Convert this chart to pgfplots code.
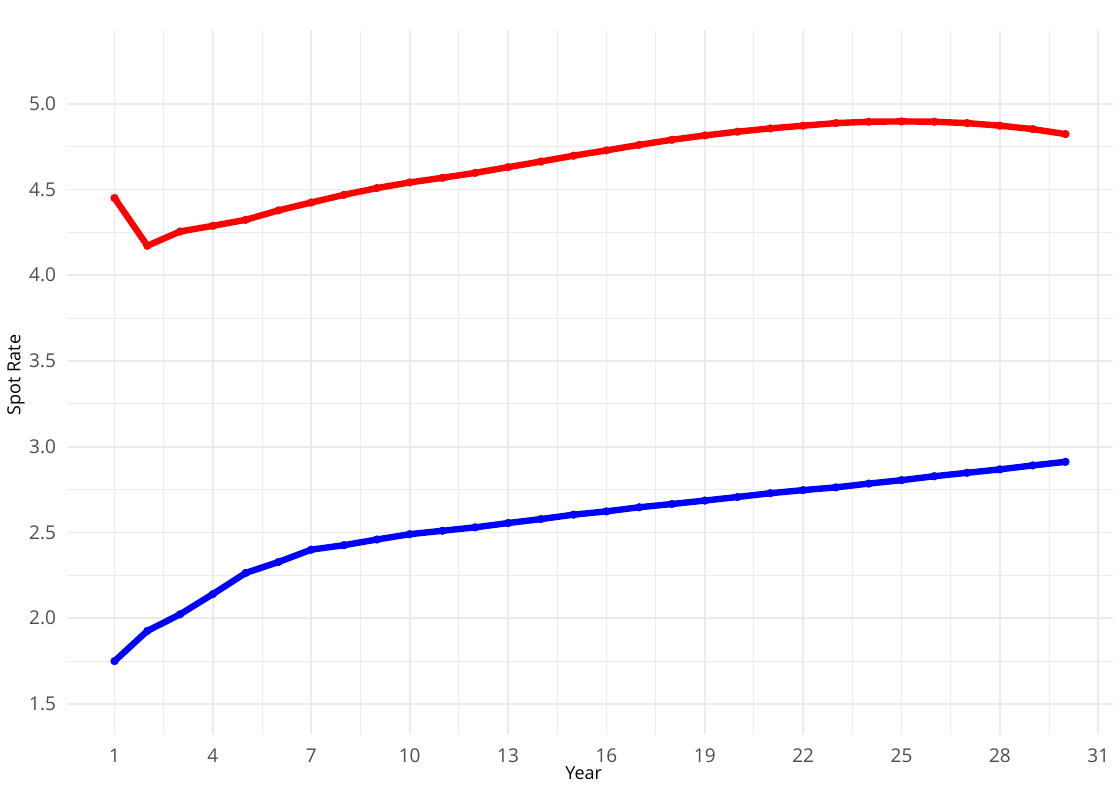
\documentclass[border=0pt]{standalone}
\usepackage{fontspec}
\setmainfont{Open Sans}
\usepackage{pgfplots}
\pgfplotsset{compat=1.18}
\definecolor{gridc}{HTML}{EBEBEB}
\definecolor{tickc}{HTML}{4D4D4D}
\begin{document}
\begin{tikzpicture}
\path[use as bounding box] (0,0) rectangle (560pt,396pt);
\begin{axis}[
  at={(33.5pt,29pt)}, anchor=south west,
  scale only axis, width=523pt, height=352pt,
  xmin=-0.45, xmax=31.45, ymin=1.325, ymax=5.43,
  xtick={1,4,...,31}, ytick={1.5,2.0,...,5.0},
  minor x tick num=1, minor y tick num=1,
  axis line style={draw=none},
  major tick length=0pt, minor tick length=0pt,
  grid=both,
  major grid style={gridc, line width=0.85pt},
  minor grid style={gridc, line width=0.5pt},
  /pgf/number format/assume math mode=true,
  yticklabel={\pgfmathprintnumber[fixed,fixed zerofill,precision=1]{\tick}},
  tick label style={font=\fontsize{9.5}{11}\selectfont, text=tickc},
  yticklabel style={xshift=-2pt},
  xticklabel style={yshift=-4pt},
  xlabel={Year}, ylabel={Spot Rate},
  label style={font=\fontsize{9}{11}\selectfont},
  xlabel style={at={(axis description cs:0.494,-0.0554)}, anchor=center},
  ylabel style={at={(axis description cs:-0.0488,0.51)}, anchor=center},
  clip=false,
]
\addplot[color={rgb,255:red,255;green,0;blue,0}, line width=3.2pt, mark=*, mark size=1.9pt, mark options={line width=0.3pt}] coordinates {
(1,4.450) (2,4.172) (3,4.255) (4,4.288) (5,4.323) (6,4.378) (7,4.424) (8,4.469) (9,4.508) (10,4.541)
(11,4.568) (12,4.597) (13,4.630) (14,4.663) (15,4.697) (16,4.728) (17,4.760) (18,4.790) (19,4.815) (20,4.837)
(21,4.856) (22,4.872) (23,4.887) (24,4.895) (25,4.897) (26,4.895) (27,4.887) (28,4.872) (29,4.852) (30,4.823)
};
\addplot[color={rgb,255:red,0;green,0;blue,255}, line width=3.2pt, mark=*, mark size=1.9pt, mark options={line width=0.3pt}] coordinates {
(1,1.750) (2,1.926) (3,2.023) (4,2.141) (5,2.264) (6,2.328) (7,2.400) (8,2.426) (9,2.459) (10,2.490)
(11,2.510) (12,2.530) (13,2.555) (14,2.578) (15,2.604) (16,2.623) (17,2.647) (18,2.666) (19,2.686) (20,2.707)
(21,2.729) (22,2.747) (23,2.763) (24,2.785) (25,2.805) (26,2.828) (27,2.848) (28,2.868) (29,2.891) (30,2.912)
};
\end{axis}
\end{tikzpicture}
\end{document}
